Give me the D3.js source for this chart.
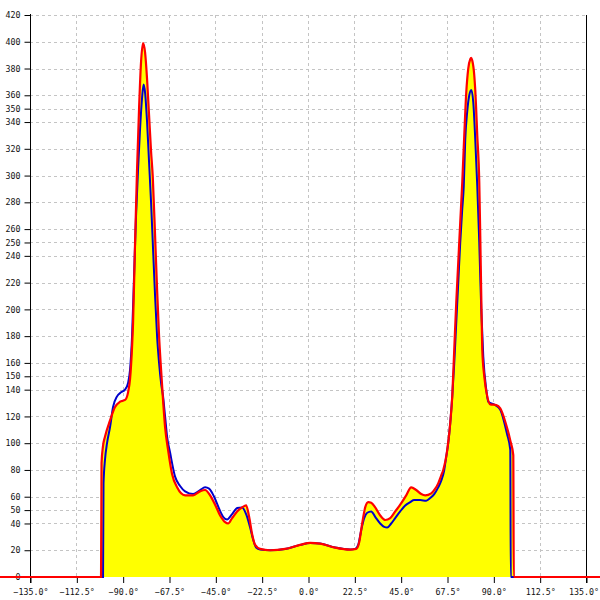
<!DOCTYPE html>
<html>
<head>
<meta charset="utf-8">
<script src="https://cdn.jsdelivr.net/npm/d3@7"></script>
<style>
  html, body { margin: 0; padding: 0; background: #fff; }
  svg { display: block; }
  .lbl { font-family: "DejaVu Sans Mono", monospace; font-size: 8.3px; fill: #111; }
</style>
</head>
<body>
<svg id="chart" width="600" height="600"></svg>
<script>
// ---- data ----
const xTicks = [-135, -112.5, -90, -67.5, -45, -22.5, 0, 22.5, 45, 67.5, 90, 112.5, 135];
const yTicks = [0, 20, 40, 50, 60, 80, 100, 120, 140, 150, 160, 180, 200, 220, 240, 250, 260, 280, 300, 320, 340, 350, 360, 380, 400, 420];

const redAngles = [-150, -100.5, -100.26, -99.53, -98.56, -96.13, -93.7, -91.27, -88.84, -87.38, -86.41, -85.44, -84.95, -83.98, -83.01, -82.04, -81.07, -80.09, -79.12, -78.15, -77.18, -76.21, -75.38, -74.26, -73.29, -72.32, -71.35, -70.38, -69.4, -67.95, -66.01, -63.57, -59.69, -55.8, -52.4, -49.97, -47.54, -45.11, -42.68, -40.25, -38.79, -36.85, -34.42, -31.99, -30.05, -28.59, -27.13, -25.67, -23.25, -18.39, -11.1, -3.81, 1.05, 5.91, 13.2, 20.48, 23.4, 24.86, 26.31, 27.77, 29.23, 30.69, 32.63, 35.06, 37.49, 39.92, 42.35, 44.78, 47.69, 50.12, 52.55, 54.98, 56.93, 59.84, 61.79, 63.24, 64.7, 65.67, 67.62, 69.07, 70.05, 71.02, 71.99, 72.96, 73.93, 74.91, 75.88, 76.85, 77.82, 78.79, 79.28, 79.77, 80.74, 81.22, 82.2, 83.17, 83.65, 84.14, 84.62, 85.6, 87.05, 88.51, 91.43, 93.37, 95.8, 98.23, 99.69, 99.93, 150];
const redValues = [0, 0, 85, 98, 105, 117, 127, 131, 132.3, 138, 148, 172, 190, 250, 305, 350, 385, 399, 392, 372, 345, 318, 299, 255, 215, 180, 155, 132, 112, 95, 77, 67, 61, 61, 64, 65, 61, 54, 46, 41, 40, 44, 49, 52, 53.5, 45, 32, 24, 21, 20, 21, 24, 25.5, 25, 22, 20.5, 21, 26, 40, 52, 56, 55.5, 52, 46, 42.6, 44, 49, 54, 61, 67, 65, 62, 61, 62.5, 66, 70, 76, 80, 95, 115, 135, 170, 205, 235, 265, 295, 330, 362, 380, 387, 388, 386, 375, 364, 330, 295, 255, 210, 170, 150, 135, 129, 128.5, 126, 116, 102, 91, 0, 0];

const blueAngles = [-150, -99.53, -99.29, -98.56, -97.59, -96.13, -94.67, -92.73, -90.78, -88.84, -87.38, -86.41, -85.44, -84.47, -83.5, -82.52, -81.55, -80.58, -79.85, -79.12, -78.15, -77.18, -76.21, -75.24, -74.26, -73.29, -72.32, -71.35, -70.38, -69.4, -68.43, -66.98, -64.55, -62.12, -59.69, -55.8, -52.4, -49.97, -48.03, -45.6, -43.17, -41.22, -39.28, -36.85, -34.42, -31.99, -30.05, -28.1, -26.65, -25.19, -23.25, -18.39, -11.1, -3.81, 1.05, 5.91, 13.2, 20.48, 22.91, 24.37, 25.83, 27.29, 28.75, 30.69, 32.63, 35.06, 37.01, 38.46, 40.41, 42.35, 44.78, 47.21, 49.64, 51.58, 54.5, 57.41, 59.36, 61.3, 63.24, 64.7, 66.16, 67.13, 68.1, 69.07, 70.05, 71.02, 71.99, 72.96, 73.93, 74.91, 75.64, 76.36, 77.33, 78.31, 79.28, 80.25, 81.22, 82.2, 83.17, 84.14, 85.11, 86.57, 87.54, 90.94, 93.37, 96.63, 98.23, 98.47, 150];
const blueValues = [0, 0, 70, 88, 100, 112, 127, 135, 138, 140, 145, 155, 180, 225, 270, 305, 335, 358, 368, 362, 340, 310, 280, 245, 210, 180, 160, 145, 135, 120, 105, 93, 75, 68, 64, 62, 65, 67, 66, 60, 51, 45, 43, 47, 51.5, 52, 47, 37, 28, 22, 20.5, 20, 21, 24, 25.5, 25, 22, 20.5, 21, 24, 35, 44, 48, 49, 45, 40, 37.5, 37, 40, 44, 49, 53.5, 56, 57.5, 57.5, 57, 59, 62, 67, 72, 80, 90, 100, 115, 135, 160, 190, 220, 250, 275, 292, 327, 348, 360, 364, 355, 327, 292, 250, 200, 165, 140, 131, 128.5, 125, 107, 95, 0, 0];

// ---- chart ----
const svg = d3.select("#chart");
const x = d3.scaleLinear().domain([-135, 135]).range([30, 586]);
const y = d3.scaleLinear().domain([0, 420]).range([577, 15]);

const red = redAngles.map((a, i) => [a, redValues[i]]);
const blue = blueAngles.map((a, i) => [a, blueValues[i]]);

// grid
const grid = svg.append("g").attr("stroke", "#c4c4c4").attr("stroke-width", 1).attr("stroke-dasharray", "3,3");
grid.selectAll(".hg").data(yTicks.filter(d => d > 0)).join("line")
  .attr("x1", 30).attr("x2", 586)
  .attr("y1", d => Math.round(y(d)) + 0.5).attr("y2", d => Math.round(y(d)) + 0.5);
grid.selectAll(".vg").data(xTicks.filter(d => d > -135 && d < 135)).join("line")
  .attr("y1", 15).attr("y2", 577)
  .attr("x1", d => Math.round(x(d)) + 0.5).attr("x2", d => Math.round(x(d)) + 0.5);

// fill under red series
const area = d3.area().x(d => x(d[0])).y0(y(0)).y1(d => y(d[1])).curve(d3.curveMonotoneX);
svg.append("path").datum(red).attr("d", area).attr("fill", "#ffff00");

// axes
const yAxis = d3.axisLeft(y).tickValues(yTicks).tickSize(6).tickPadding(4).tickFormat(d3.format("d"));
const gy = svg.append("g").attr("transform", "translate(30.5,0)").call(yAxis);
gy.select(".domain").remove();
gy.append("line").attr("x1", 0).attr("x2", 0).attr("y1", 14).attr("y2", 583).attr("stroke", "#000");
gy.selectAll("text").attr("class", "lbl").attr("font-size", null).attr("font-family", null);

const xAxis = d3.axisBottom(x).tickValues(xTicks).tickSize(6).tickPadding(6).tickFormat(d => d3.format(".1f")(d) + "°");
const gx = svg.append("g").attr("transform", "translate(0.5,577)").call(xAxis);
gx.select(".domain").remove();
gx.selectAll("text").attr("class", "lbl").attr("font-size", null).attr("font-family", null);
gx.selectAll(".tick").filter(d => d === 135).select("text").attr("text-anchor", "end").attr("x", 12);

// right border
svg.append("line").attr("x1", 586.5).attr("x2", 586.5).attr("y1", 15).attr("y2", 583).attr("stroke", "#000");

// lines
const line = d3.line().x(d => x(d[0])).y(d => y(d[1])).curve(d3.curveMonotoneX);
svg.append("path").datum(blue).attr("d", line).attr("fill", "none").attr("stroke", "#0000cc").attr("stroke-width", 2);
svg.append("path").datum(red).attr("d", line).attr("fill", "none").attr("stroke", "#ff0000").attr("stroke-width", 2.2);
</script>
</body>
</html>
